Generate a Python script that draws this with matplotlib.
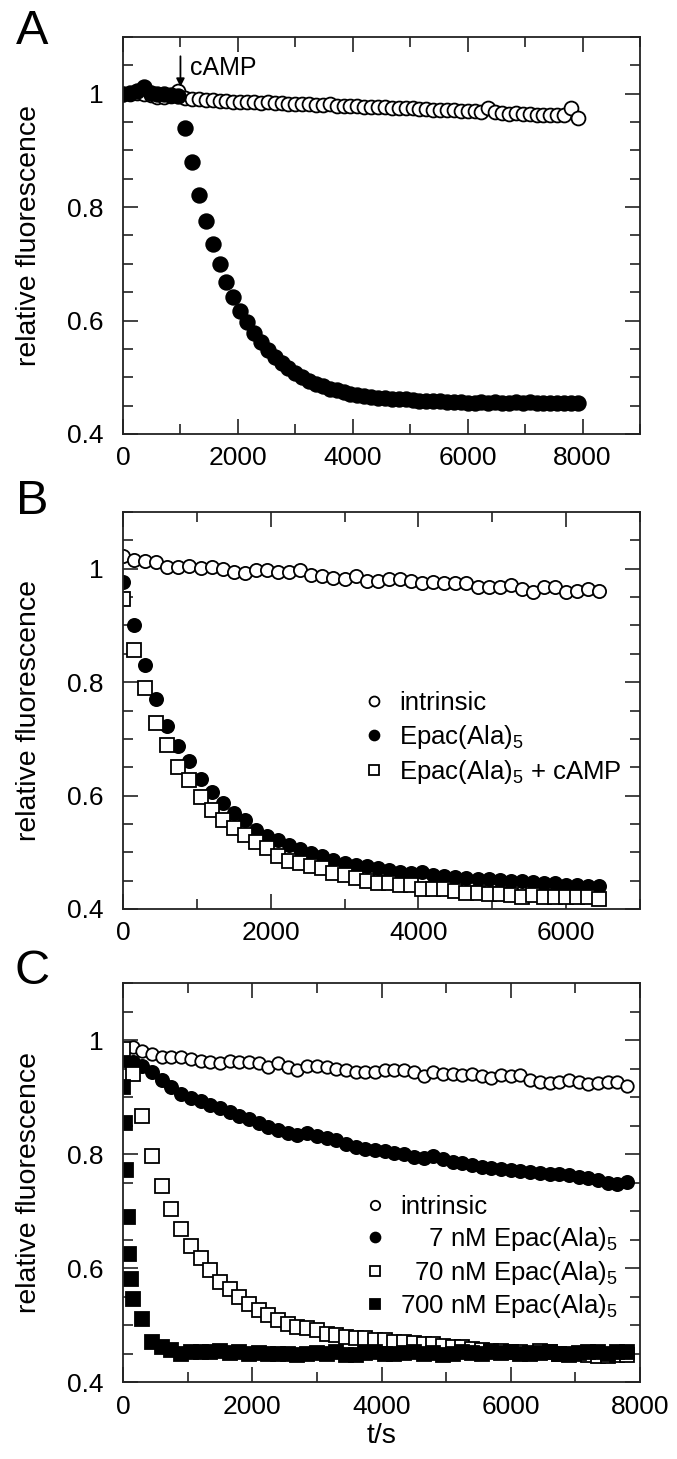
import numpy as np
import matplotlib
matplotlib.use("Agg")
import matplotlib.pyplot as plt
from matplotlib.ticker import MultipleLocator, FuncFormatter

plt.rcParams['font.family'] = ['Liberation Sans', 'DejaVu Sans']
plt.rcParams['mathtext.default'] = 'regular'

# ---------------- data ----------------
# panel A: sampled every 120 s, cAMP added at 1000 s
a_step = 120
a_intrinsic = [1.000, 1.000, 1.001, 1.000, 0.998, 0.994, 0.995, 0.996, 1.004,
               0.992, 0.991, 0.990, 0.989, 0.989, 0.988, 0.987, 0.986, 0.985,
               0.986, 0.985, 0.984, 0.985, 0.983, 0.983, 0.982, 0.982, 0.981,
               0.981, 0.980, 0.980, 0.981, 0.979, 0.979, 0.978, 0.978, 0.977,
               0.977, 0.976, 0.977, 0.975, 0.975, 0.974, 0.975, 0.973, 0.973,
               0.972, 0.972, 0.971, 0.971, 0.970, 0.969, 0.969, 0.968, 0.975,
               0.968, 0.966, 0.965, 0.966, 0.964, 0.965, 0.963, 0.963, 0.962,
               0.962, 0.962, 0.974, 0.957]
a_epac = [1.000, 1.002, 1.004, 1.012, 1.002, 1.000, 1.000, 0.998, 0.996,
          0.940, 0.880, 0.822, 0.775, 0.735, 0.700, 0.668, 0.641, 0.617,
          0.597, 0.578, 0.562, 0.548, 0.536, 0.525, 0.516, 0.507, 0.500,
          0.494, 0.489, 0.484, 0.480, 0.477, 0.474, 0.471, 0.469, 0.467,
          0.466, 0.464, 0.463, 0.462, 0.461, 0.461, 0.460, 0.459, 0.459,
          0.458, 0.458, 0.457, 0.457, 0.456, 0.455, 0.455, 0.456, 0.455,
          0.456, 0.455, 0.455, 0.456, 0.455, 0.456, 0.455, 0.455, 0.455,
          0.455, 0.455, 0.455, 0.454]
camp_time = 1000

# panel B: sampled every 150 s
b_step = 150
b_intrinsic = [1.022, 1.015, 1.013, 1.012, 1.003, 1.003, 1.005, 1.001, 1.003,
               0.999, 0.995, 0.993, 0.997, 0.997, 0.995, 0.995, 0.998, 0.989,
               0.987, 0.984, 0.982, 0.988, 0.979, 0.978, 0.982, 0.981, 0.978,
               0.975, 0.977, 0.974, 0.975, 0.974, 0.968, 0.968, 0.968, 0.971,
               0.965, 0.959, 0.968, 0.967, 0.959, 0.961, 0.964, 0.960]
b_epac = [0.977, 0.900, 0.830, 0.771, 0.723, 0.687, 0.661, 0.629, 0.607,
          0.587, 0.569, 0.557, 0.540, 0.528, 0.522, 0.513, 0.506, 0.499,
          0.493, 0.487, 0.481, 0.478, 0.475, 0.472, 0.469, 0.466, 0.463,
          0.466, 0.460, 0.459, 0.456, 0.455, 0.453, 0.453, 0.452, 0.449,
          0.449, 0.447, 0.446, 0.445, 0.443, 0.443, 0.441, 0.440]
b_epac_camp = [0.947, 0.856, 0.789, 0.728, 0.689, 0.651, 0.628, 0.598, 0.575,
               0.557, 0.543, 0.531, 0.519, 0.507, 0.493, 0.484, 0.481, 0.475,
               0.472, 0.463, 0.460, 0.455, 0.449, 0.446, 0.446, 0.443, 0.443,
               0.435, 0.435, 0.435, 0.431, 0.429, 0.428, 0.427, 0.427, 0.425,
               0.422, 0.424, 0.422, 0.422, 0.421, 0.421, 0.422, 0.418]

# panel C: sampled every 150 s
c_step = 150
c_intrinsic_start = 150
c_intrinsic = [0.988, 0.980, 0.975, 0.970, 0.970, 0.970, 0.966, 0.964, 0.962,
               0.960, 0.964, 0.962, 0.962, 0.959, 0.952, 0.959, 0.953, 0.947,
               0.954, 0.954, 0.953, 0.950, 0.947, 0.944, 0.943, 0.944, 0.947,
               0.947, 0.948, 0.944, 0.937, 0.944, 0.941, 0.941, 0.939, 0.940,
               0.936, 0.933, 0.939, 0.937, 0.939, 0.930, 0.927, 0.925, 0.927,
               0.930, 0.927, 0.923, 0.925, 0.927, 0.926, 0.919]
c_7nm = [0.965, 0.962, 0.955, 0.943, 0.930, 0.918, 0.906, 0.898, 0.893,
         0.886, 0.880, 0.873, 0.867, 0.862, 0.854, 0.847, 0.842, 0.837,
         0.833, 0.837, 0.831, 0.828, 0.824, 0.818, 0.812, 0.809, 0.807,
         0.805, 0.802, 0.800, 0.795, 0.793, 0.796, 0.791, 0.786, 0.784,
         0.780, 0.777, 0.775, 0.773, 0.772, 0.771, 0.769, 0.766, 0.765,
         0.765, 0.763, 0.760, 0.758, 0.755, 0.750, 0.748, 0.751]
c_70nm = [0.985, 0.941, 0.867, 0.796, 0.744, 0.703, 0.669, 0.638, 0.617,
          0.596, 0.576, 0.564, 0.550, 0.537, 0.526, 0.517, 0.508, 0.502,
          0.496, 0.494, 0.492, 0.485, 0.482, 0.479, 0.478, 0.478, 0.473,
          0.473, 0.470, 0.470, 0.468, 0.467, 0.466, 0.464, 0.461, 0.461,
          0.458, 0.457, 0.455, 0.454, 0.452, 0.452, 0.451, 0.455, 0.452,
          0.450, 0.448, 0.450, 0.447, 0.446, 0.446, 0.447, 0.447]
# 700 nM: fast early readings, then every 150 s from 300 s
c_700nm_early_t = [0, 25, 50, 75, 100, 125, 150]
c_700nm_early = [0.918, 0.854, 0.772, 0.690, 0.625, 0.580, 0.546]
c_700nm_late_start = 300
c_700nm_late = [0.511, 0.470, 0.461, 0.457, 0.450, 0.452, 0.453, 0.452, 0.454,
                0.451, 0.452, 0.450, 0.451, 0.449, 0.450, 0.449, 0.448, 0.449,
                0.451, 0.450, 0.452, 0.447, 0.448, 0.451, 0.452, 0.450, 0.449,
                0.451, 0.452, 0.450, 0.451, 0.448, 0.449, 0.452, 0.451, 0.450,
                0.452, 0.451, 0.453, 0.450, 0.449, 0.451, 0.452, 0.450, 0.449,
                0.451, 0.453, 0.452, 0.450, 0.452, 0.453]


def times(vals, step, start=0):
    return start + step * np.arange(len(vals))


def style_axes(ax, xmax, xlabels_max):
    ax.set_xlim(0, xmax)
    ax.set_ylim(0.4, 1.1)
    ax.xaxis.set_major_locator(MultipleLocator(2000))
    ax.xaxis.set_minor_locator(MultipleLocator(1000))
    ax.yaxis.set_major_locator(MultipleLocator(0.2))
    ax.yaxis.set_minor_locator(MultipleLocator(0.05))
    ax.xaxis.set_major_formatter(FuncFormatter(
        lambda v, p: '%d' % round(v) if v <= xlabels_max + 1 else ''))
    ax.yaxis.set_major_formatter(FuncFormatter(lambda v, p: '%g' % round(v, 2)))
    ax.tick_params(which='both', direction='in', top=True, right=True,
                   width=1.2, color='#222222', labelsize=19)
    ax.tick_params(which='major', length=11)
    ax.tick_params(which='minor', length=7.5)
    ax.tick_params(axis='x', pad=9)
    ax.tick_params(axis='y', pad=14)
    for s in ax.spines.values():
        s.set_linewidth(1.3)
        s.set_color('#222222')
    ax.set_ylabel('relative fluorescence', fontsize=20.5)
    ax.yaxis.set_label_coords(-0.157, 0.5)


W, H = 677, 1459
fig = plt.figure(figsize=(W / 100, H / 100), dpi=100)
left, width = 123 / W, 517 / W
axA = fig.add_axes([left, 1 - 434 / H, width, 397 / H])
axB = fig.add_axes([left, 1 - 909 / H, width, 397 / H])
axC = fig.add_axes([left, 1 - 1382 / H, width, 399 / H])

open_kw = dict(linestyle='none', mfc='white', mec='black', mew=1.3)
fill_kw = dict(linestyle='none', mfc='black', mec='black', mew=1.3)
leg_kw = dict(loc='upper left', frameon=False, fontsize=18.5, numpoints=1,
              handlelength=1.0, handletextpad=0.5, borderpad=0,
              borderaxespad=0, markerscale=0.75)

# ---- A ----
axA.plot(times(a_intrinsic, a_step), a_intrinsic, 'o', ms=10, **open_kw)
axA.plot(times(a_epac, a_step), a_epac, 'o', ms=10.5, **fill_kw)
axA.annotate('', xy=(camp_time, 1.012), xytext=(camp_time, 1.066),
             arrowprops=dict(arrowstyle='-|>', lw=1.3, color='black',
                             mutation_scale=12, shrinkA=0, shrinkB=0))
axA.text(camp_time + 170, 1.046, 'cAMP', fontsize=18, ha='left', va='center')
style_axes(axA, 9000, 8000)

# ---- B ----
axB.plot(times(b_intrinsic, b_step), b_intrinsic, 'o', ms=9.5, label='intrinsic', **open_kw)
axB.plot(times(b_epac, b_step), b_epac, 'o', ms=9.5, label='Epac(Ala)$_5$', **fill_kw)
axB.plot(times(b_epac_camp, b_step), b_epac_camp, 's', ms=9.5,
         label='Epac(Ala)$_5$ + cAMP', **open_kw)
style_axes(axB, 7000, 6000)
axB.legend(bbox_to_anchor=(0.46, 0.548), labelspacing=0.28, **leg_kw)

# ---- C ----
axC.plot(times(c_intrinsic, c_step, c_intrinsic_start), c_intrinsic, 'o', ms=9,
         label='intrinsic', **open_kw)
axC.plot(times(c_7nm, c_step), c_7nm, 'o', ms=9.5, label='    7 nM Epac(Ala)$_5$', **fill_kw)
axC.plot(times(c_70nm, c_step), c_70nm, 's', ms=9.5, label='  70 nM Epac(Ala)$_5$', **open_kw)
t700 = np.concatenate([c_700nm_early_t,
                       times(c_700nm_late, c_step, c_700nm_late_start)])
axC.plot(t700, c_700nm_early + c_700nm_late, 's', ms=9.5,
         label='700 nM Epac(Ala)$_5$', **fill_kw)
style_axes(axC, 8000, 8000)
axC.set_xlabel('t/s', fontsize=20.5, labelpad=3)
axC.legend(bbox_to_anchor=(0.462, 0.468), labelspacing=0.22, **leg_kw)

# panel letters
for letter, y in [('A', 32), ('B', 502), ('C', 972)]:
    fig.text(32 / W, 1 - y / H, letter, fontsize=35, ha='center', va='center')

fig.savefig('out.png', dpi=100)
